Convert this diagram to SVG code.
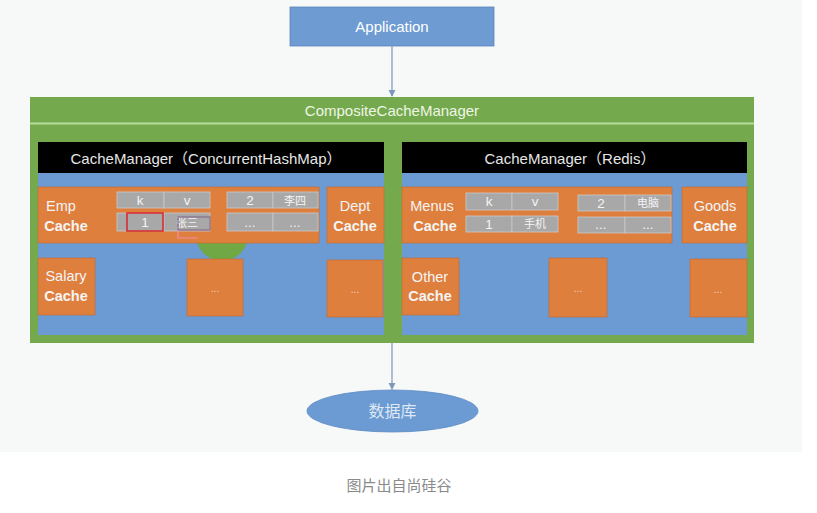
<svg xmlns="http://www.w3.org/2000/svg" width="817" height="513" viewBox="0 0 817 513">
<defs>
<style>
.t{font-family:"Liberation Sans","Noto Sans CJK SC",sans-serif;fill:#f4f4f4;text-anchor:middle}
.lbl{font-size:14.5px}
.b{font-weight:bold}
.cell{fill:#a8a8a8;stroke:#c9c9c9;stroke-width:0.8}
.ct{font-size:13.5px}
.org{fill:#df7f3e;stroke:#c8692c;stroke-width:0.6}
.blue{fill:#6b9bd2}
.blk{fill:#000}
.hd{font-size:15px;fill:#e6e6e6}
.dots{font-size:10px;fill:#f1d6c2}
.conn{stroke:#7d97bd;stroke-width:1.2;fill:none}
</style>
<marker id="ah" viewBox="0 0 8 8" refX="7" refY="4" markerWidth="6" markerHeight="6" orient="auto"><path d="M0,0 L8,4 L0,8 z" fill="#7d97bd"/></marker>
</defs>
<rect x="0" y="0" width="817" height="513" fill="#ffffff"/>
<rect x="0" y="0" width="802" height="452" fill="#f7f8f8"/>

<g id="application">
<rect x="290" y="7" width="204" height="39" fill="#6e9bd2" stroke="#5a86be" stroke-width="0.8"/>
<text class="t" x="392" y="31.5" style="font-size:15px;fill:#ffffff">Application</text>
</g>

<g id="composite">
<rect x="30" y="97" width="724" height="246" fill="#75a94e"/>
<line x1="30" y1="123.5" x2="754" y2="123.5" stroke="#b5dc98" stroke-width="2"/>
<text class="t" x="392" y="116" style="font-size:15px;fill:#eef6e4">CompositeCacheManager</text>
</g>

<g id="cm-left">
<rect class="blue" x="38" y="173" width="346" height="162"/>
<rect class="blk" x="38" y="142" width="346" height="31"/>
<text class="t hd" x="206" y="164">CacheManager（ConcurrentHashMap）</text>
</g>

<g id="cm-right">
<rect class="blue" x="402" y="173" width="345" height="162"/>
<rect class="blk" x="402" y="142" width="345" height="31"/>
<text class="t hd" x="570" y="164">CacheManager（Redis）</text>
</g>

<circle cx="222" cy="235" r="26" fill="#70a846"/>

<g id="emp-cache">
<rect class="org" x="38" y="187" width="281" height="56"/>
<text class="t lbl" x="61" y="211">Emp</text>
<text class="t lbl b" x="66" y="231">Cache</text>
<rect class="cell" x="117" y="192" width="47" height="16"/>
<rect class="cell" x="164" y="192" width="46" height="16"/>
<rect class="cell" x="227" y="192" width="46" height="16"/>
<rect class="cell" x="273" y="192" width="45" height="16"/>
<rect class="cell" x="117" y="213" width="47" height="18"/>
<rect class="cell" x="164" y="213" width="46" height="18"/>
<rect class="cell" x="227" y="213" width="46" height="18"/>
<rect class="cell" x="273" y="213" width="45" height="18"/>
<text class="t ct" x="140" y="205">k</text>
<text class="t ct" x="187" y="205">v</text>
<text class="t ct" x="250" y="205">2</text>
<text class="t ct" x="295" y="205" style="font-size:11px">李四</text>
<text class="t ct" x="145" y="227">1</text>
<text class="t ct" x="187" y="227" style="font-size:11px">张三</text>
<text class="t ct" x="250" y="227">...</text>
<text class="t ct" x="295" y="227">...</text>
<rect x="127" y="213" width="36" height="18" fill="none" stroke="#d8262a" stroke-width="1.5"/>
<rect x="178" y="217" width="32" height="13" fill="none" stroke="#8a6d8e" stroke-width="1.2"/>
<path d="M178,230 V238 H198" fill="none" stroke="#f08ca8" stroke-width="1.2"/>
</g>

<g id="dept-cache">
<rect class="org" x="327" y="187" width="57" height="56"/>
<text class="t lbl" x="355" y="211">Dept</text>
<text class="t lbl b" x="355" y="231">Cache</text>
</g>

<g id="salary-cache">
<rect class="org" x="38" y="258" width="57" height="57"/>
<text class="t lbl" x="66" y="281">Salary</text>
<text class="t lbl b" x="66" y="301">Cache</text>
</g>

<g id="left-more1">
<rect class="org" x="187" y="259" width="56" height="57"/>
<text class="t dots" x="215" y="292">...</text>
</g>

<g id="left-more2">
<rect class="org" x="327" y="260" width="56" height="57"/>
<text class="t dots" x="355" y="293">...</text>
</g>

<g id="menus-cache">
<rect class="org" x="402" y="187" width="270" height="56"/>
<text class="t lbl" x="432" y="211">Menus</text>
<text class="t lbl b" x="435" y="231">Cache</text>
<rect class="cell" x="466" y="193" width="46" height="17"/>
<rect class="cell" x="512" y="193" width="46" height="17"/>
<rect class="cell" x="466" y="216" width="46" height="16"/>
<rect class="cell" x="512" y="216" width="46" height="16"/>
<rect class="cell" x="578" y="195" width="47" height="16"/>
<rect class="cell" x="625" y="195" width="46" height="16"/>
<rect class="cell" x="578" y="217" width="47" height="16"/>
<rect class="cell" x="625" y="217" width="46" height="16"/>
<text class="t ct" x="489" y="206">k</text>
<text class="t ct" x="535" y="206">v</text>
<text class="t ct" x="489" y="229">1</text>
<text class="t ct" x="535" y="228" style="font-size:11px">手机</text>
<text class="t ct" x="601" y="208">2</text>
<text class="t ct" x="648" y="207" style="font-size:11px">电脑</text>
<text class="t ct" x="601" y="229">...</text>
<text class="t ct" x="648" y="229">...</text>
</g>

<g id="goods-cache">
<rect class="org" x="682" y="187" width="65" height="56"/>
<text class="t lbl" x="715" y="211">Goods</text>
<text class="t lbl b" x="715" y="231">Cache</text>
</g>

<g id="other-cache">
<rect class="org" x="402" y="258" width="57" height="57"/>
<text class="t lbl" x="430" y="282">Other</text>
<text class="t lbl b" x="430" y="301">Cache</text>
</g>

<g id="right-more1">
<rect class="org" x="549" y="258" width="58" height="59"/>
<text class="t dots" x="578" y="292">...</text>
</g>

<g id="right-more2">
<rect class="org" x="690" y="259" width="57" height="58"/>
<text class="t dots" x="718" y="293">...</text>
</g>

<g id="database">
<ellipse cx="392.5" cy="411" rx="85.5" ry="21" fill="#6b9bd2" stroke="#5d8cc4" stroke-width="0.8"/>
<text class="t" x="392.5" y="417" style="font-size:16px;fill:#dfe8f4">数据库</text>
</g>

<g id="connectors">
<line class="conn" x1="392" y1="46" x2="392" y2="96" marker-end="url(#ah)"/>
<line class="conn" x1="392" y1="343" x2="392" y2="389" marker-end="url(#ah)"/>
</g>

<text class="t" x="399" y="491" style="font-size:15px;fill:#8a8a8a">图片出自尚硅谷</text>
</svg>
